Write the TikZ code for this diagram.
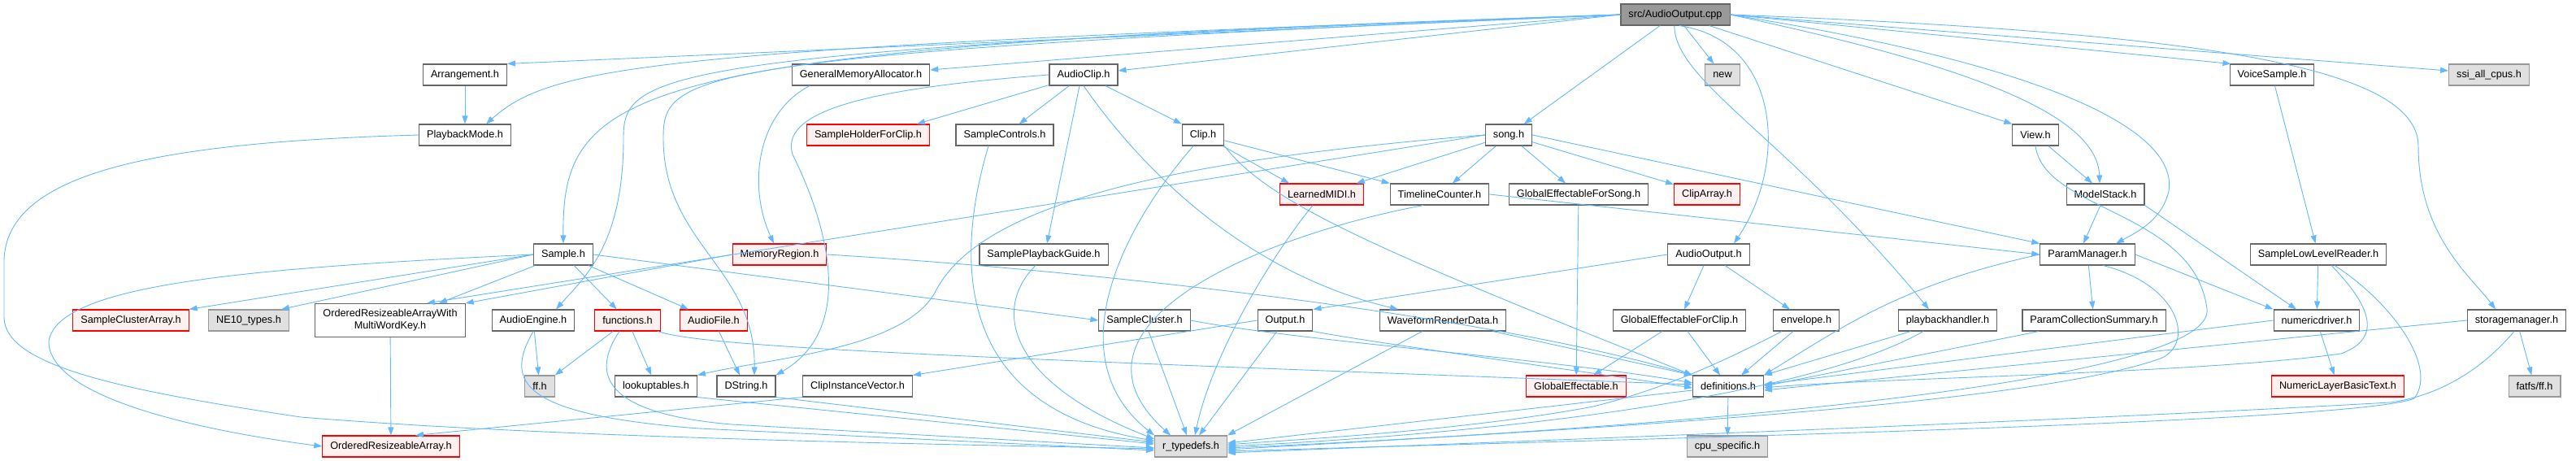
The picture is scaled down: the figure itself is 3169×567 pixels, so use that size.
\documentclass[tikz,border=0pt]{standalone}
\usepackage{fontspec}
\setmainfont{Liberation Sans}
\usetikzlibrary{arrows.meta}

\definecolor{linkblue}{HTML}{63B8FF}

\tikzset{
  hfile/.style={draw=black!60, fill=white, line width=1.1pt, minimum height=26pt,
    inner xsep=9.5pt, inner ysep=0pt, font=\fontsize{12.7}{15}\selectfont},
  sysfile/.style={hfile, draw=black!40, fill=black!12},
  missfile/.style={hfile, draw=red, fill=red!6},
  rootfile/.style={hfile, fill=black!40},
  dep/.style={draw=linkblue, line width=0.9pt, -{Triangle[length=10pt,width=7pt]}}
}

\begin{document}
\begin{tikzpicture}[x=1pt, y=-1pt]
\useasboundingbox (0,0) rectangle (3169,567);

\node[rootfile] (root) at (2061,18) {src/AudioOutput.cpp};

% row 1
\node[hfile] (arrange) at (572,92) {Arrangement.h};
\node[hfile] (gma) at (1059,92) {GeneralMemoryAllocator.h};
\node[hfile] (aclip) at (1333,92) {AudioClip.h};
\node[sysfile] (newh) at (2119,92) {new};
\node[hfile] (voice) at (2795,92) {VoiceSample.h};
\node[sysfile] (ssi) at (3062,92) {ssi\_all\_cpus.h};

% row 2
\node[hfile] (pbmode) at (572,166) {PlaybackMode.h};
\node[missfile] (shfc) at (1068,166) {SampleHolderForClip.h};
\node[hfile] (sctrl) at (1236,166) {SampleControls.h};
\node[hfile] (clip) at (1480,166) {Clip.h};
\node[hfile] (song) at (1856,166) {song.h};
\node[hfile] (view) at (2504,166) {View.h};

% row 3
\node[missfile] (lmidi) at (1626,239) {LearnedMIDI.h};
\node[hfile] (tlc) at (1771,239) {TimelineCounter.h};
\node[hfile] (gefs) at (1942,239) {GlobalEffectableForSong.h};
\node[missfile] (cliparr) at (2100,239) {ClipArray.h};
\node[hfile] (mstack) at (2590,239) {ModelStack.h};

% row 4
\node[hfile] (sample) at (693,313) {Sample.h};
\node[missfile] (memreg) at (959,313) {MemoryRegion.h};
\node[hfile] (spg) at (1284,313) {SamplePlaybackGuide.h};
\node[hfile] (aout) at (2102,313) {AudioOutput.h};
\node[hfile] (pmgr) at (2568,313) {ParamManager.h};
\node[hfile] (sllr) at (2852,313) {SampleLowLevelReader.h};

% row 5
\node[missfile] (sca) at (161,394) {SampleClusterArray.h};
\node[sysfile] (ne10) at (306,394) {NE10\_types.h};
\node[hfile, minimum height=41pt, align=center] (orawmwk) at (480,394) {OrderedResizeableArrayWith\\MultiWordKey.h};
\node[hfile] (aeng) at (656,394) {AudioEngine.h};
\node[missfile] (funcs) at (772,394) {functions.h};
\node[missfile] (afile) at (878,394) {AudioFile.h};
\node[hfile] (sclus) at (1408,394) {SampleCluster.h};
\node[hfile] (output) at (1581,394) {Output.h};
\node[hfile] (wrd) at (1775,394) {WaveformRenderData.h};
\node[hfile] (gefc) at (2066,394) {GlobalEffectableForClip.h};
\node[hfile] (envl) at (2222,394) {envelope.h};
\node[hfile] (pbh) at (2396,394) {playbackhandler.h};
\node[hfile] (pcs) at (2576,394) {ParamCollectionSummary.h};
\node[hfile] (ndrv) at (2850,394) {numericdriver.h};
\node[hfile] (smgr) at (3096,394) {storagemanager.h};

% row 6
\node[sysfile] (ffh) at (664,475) {ff.h};
\node[hfile] (lut) at (807,475) {lookuptables.h};
\node[hfile] (dstr) at (918,475) {DString.h};
\node[hfile] (civ) at (1055,475) {ClipInstanceVector.h};
\node[missfile] (geff) at (1939,475) {GlobalEffectable.h};
\node[hfile] (defs) at (2126,475) {definitions.h};
\node[missfile] (nlbt) at (2876,475) {NumericLayerBasicText.h};
\node[sysfile] (fatfs) at (3118,475) {fatfs/ff.h};

% row 7
\node[missfile] (ora) at (481,549) {OrderedResizeableArray.h};
\node[sysfile] (rtd) at (1465,549) {r\_typedefs.h};
\node[sysfile] (cpus) at (2125,549) {cpu\_specific.h};

% includes of the cpp file
\draw[dep] (root.west) -- (arrange.north east);
\draw[dep] (root.west) .. controls (800,60) and (680,80) .. ([xshift=26pt]pbmode.north);
\draw[dep] (root.west) .. controls (780,58) and (691,100) .. (sample.north);
\draw[dep] (root.west) .. controls (800,62) and (767,90) .. (767,170) .. controls (767,300) and (720,340) .. ([xshift=28pt]aeng.north);
\draw[dep] (root.west) .. controls (840,66) and (816,90) .. (816,170) .. controls (816,300) and (930,330) .. ([xshift=10pt]dstr.north);
\draw[dep] (root.west) -- ([yshift=6pt]gma.east);
\draw[dep] (root.west) -- ([yshift=5pt]aclip.east);
\draw[dep] (root) -- (song);
\draw[dep] (root) -- (newh);
\draw[dep] (root.-70) .. controls (2190,50) and (2200,200) .. ([xshift=31pt]aout.north);
\draw[dep] (root.-95) .. controls (2060,100) and (2200,170) .. ([xshift=-23pt]pbh.north);
\draw[dep] (root) -- (view.north west);
\draw[dep] (root.east) .. controls (2420,80) and (2580,140) .. ([xshift=-7pt]mstack.north);
\draw[dep] (root.east) .. controls (2520,80) and (2680,160) .. (2668,235) .. controls (2660,270) and (2630,285) .. ([xshift=35pt]pmgr.north);
\draw[dep] (root.east) -- (voice.165);
\draw[dep] (root.east) -- ([yshift=5pt]ssi.west);
\draw[dep] (root.east) .. controls (2700,40) and (2975,80) .. (2975,180) .. controls (2975,290) and (3040,340) .. ([xshift=-26pt]smgr.north);

% left part
\draw[dep] (arrange) -- (pbmode);
\draw[dep] (pbmode.west) .. controls (200,175) and (8,210) .. (5,320) -- (5,390) .. controls (5,450) and (150,480) .. (370,513) .. controls (700,540) and (1200,547) .. ([yshift=-3pt]rtd.west);
\draw[dep] ([xshift=-63pt]gma.south) .. controls (930,140) and (920,230) .. ([xshift=-7pt]memreg.north);
\draw[dep] (memreg.west) -- (orawmwk.north east);
\draw[dep] (memreg.east) .. controls (1300,330) and (1800,380) .. (defs.north west);
\draw[dep] (sample.west) -- (sca.north east);
\draw[dep] (sample.west) -- ([xshift=40pt]ne10.north);
\draw[dep] (sample) -- ([xshift=60pt]orawmwk.north);
\draw[dep] (sample.west) .. controls (300,330) and (70,350) .. (60,420) .. controls (60,490) and (250,530) .. (ora.west);
\draw[dep] (sample) -- (funcs);
\draw[dep] (sample) -- (afile);
\draw[dep] (sample.east) -- (sclus.west);
\draw[dep] (orawmwk) -- (ora);
\draw[dep] (aeng) -- (ffh);
\draw[dep] (aeng.south) .. controls (620,470) and (640,510) .. (860,527) -- ([yshift=-5pt]rtd.west);
\draw[dep] (funcs) -- (ffh.north east);
\draw[dep] (funcs) -- (lut);
\draw[dep] ([xshift=-10pt]funcs.south) .. controls (720,470) and (760,510) .. (900,522) -- ([yshift=-2pt]rtd.west);
\draw[dep] (funcs.-20) .. controls (870,428) and (1200,440) .. ([yshift=2pt]defs.west);
\draw[dep] (afile) -- ([xshift=-8pt]dstr.north);
\draw[dep] (lut.south east) -- ([yshift=3pt]rtd.west);
\draw[dep] (dstr.south east) -- ([yshift=5pt]rtd.west);
\draw[dep] (civ.south west) -- ([xshift=30pt]ora.north);

% the audio clip
\draw[dep] (aclip) -- ([xshift=60pt]shfc.north);
\draw[dep] (aclip) -- (sctrl);
\draw[dep] ([xshift=-5pt]aclip.south) -- ([xshift=4pt]spg.north);
\draw[dep] (aclip) -- (clip.north west);
\draw[dep] (aclip.west) .. controls (1050,110) and (960,140) .. (975,190) .. controls (1010,260) and (1060,400) .. (dstr.north east);
\draw[dep] (aclip.south) .. controls (1420,230) and (1550,340) .. ([xshift=-55pt]wrd.north);
\draw[dep] ([xshift=-20pt]sctrl.south) .. controls (1180,300) and (1160,500) .. ([yshift=7pt]rtd.west);
\draw[dep] ([xshift=-10pt]spg.south) .. controls (1220,380) and (1240,470) .. ([yshift=9pt]rtd.west);
\draw[dep] (clip) -- ([xshift=-40pt]lmidi.north);
\draw[dep] (clip) -- (tlc.north west);
\draw[dep] (clip) .. controls (1380,280) and (1300,440) .. (rtd.north west);
\draw[dep] (clip.south east) .. controls (1560,250) and (1700,310) .. (defs.north west);

% the song
\draw[dep] (song) -- (lmidi);
\draw[dep] (song) -- (tlc);
\draw[dep] (song) -- (gefs);
\draw[dep] (song) -- (cliparr);
\draw[dep] (song.east) -- (pmgr.north west);
\draw[dep] (song.west) -- ([xshift=45pt]orawmwk.north);
\draw[dep] (song.west) .. controls (1400,200) and (1200,260) .. (1150,360) .. controls (1110,430) and (950,440) .. (lut.north east);
\draw[dep] (lmidi) .. controls (1560,320) and (1490,440) .. ([xshift=5pt]rtd.north);
\draw[dep] ([xshift=-20pt]tlc.south) .. controls (1550,290) and (1290,400) .. ([xshift=-25pt]rtd.north);
\draw[dep] (tlc.east) -- (pmgr.west);
\draw[dep] (gefs) -- (geff);

% the output side
\draw[dep] (aout.west) -- (output.north east);
\draw[dep] (aout) -- (gefc);
\draw[dep] (aout) -- (envl);
\draw[dep] (output.west) -- (civ.north east);
\draw[dep] (output) -- (rtd);
\draw[dep] (output.south east) .. controls (1680,420) and (1900,450) .. ([yshift=-2pt]defs.west);
\draw[dep] (wrd) -- (rtd.north east);
\draw[dep] (wrd) -- (defs.north west);
\draw[dep] (sclus) -- (rtd);
\draw[dep] (sclus.east) .. controls (1600,420) and (1900,440) .. ([yshift=4pt]defs.west);
\draw[dep] (gefc) -- (geff);
\draw[dep] (gefc) -- (defs);
\draw[dep] (envl) -- (defs);
\draw[dep] ([xshift=-30pt]envl.south) .. controls (2110,450) and (2040,480) .. (1960,500) .. controls (1800,530) and (1600,540) .. ([yshift=2pt]rtd.east);
\draw[dep] (pbh) -- (defs.north east);
\draw[dep] ([xshift=-30pt]pbh.south) .. controls (2240,480) and (1900,530) .. (rtd.east);
\draw[dep] ([yshift=-5pt]defs.west) -- ([yshift=4pt]rtd.east);
\draw[dep] (defs) -- (cpus);

% the right part
\draw[dep] (view) -- (mstack);
\draw[dep] (view.south) .. controls (2515,260) and (2700,260) .. (2715,380) .. controls (2725,460) and (2200,520) .. ([yshift=-2pt]rtd.east);
\draw[dep] (mstack) -- ([xshift=-5pt]pmgr.north);
\draw[dep] (mstack.south east) -- ([xshift=-25pt]ndrv.north);
\draw[dep] (pmgr) -- (pcs);
\draw[dep] (pmgr.west) .. controls (2340,350) and (2270,400) .. (defs.north east);
\draw[dep] (pmgr.east) -- (ndrv.north west);
\draw[dep] (pmgr.-35) .. controls (2680,350) and (2700,420) .. (2660,440) .. controls (2500,500) and (1900,530) .. ([yshift=-4pt]rtd.east);
\draw[dep] (pcs) -- (defs.east);
\draw[dep] (voice) -- (sllr);
\draw[dep] (sllr) -- (ndrv);
\draw[dep] ([xshift=16pt]sllr.south) .. controls (2930,390) and (2920,420) .. (2880,435) .. controls (2700,460) and (2300,465) .. ([yshift=-2pt]defs.east);
\draw[dep] ([xshift=20pt]sllr.south) .. controls (2940,370) and (3000,450) .. (2970,490) .. controls (2900,520) and (2000,540) .. ([yshift=-6pt]rtd.east);
\draw[dep] (ndrv) -- (nlbt);
\draw[dep] (ndrv.west) -- ([yshift=2pt]defs.east);
\draw[dep] (smgr) -- (fatfs);
\draw[dep] (smgr.west) -- ([yshift=-5pt]defs.east);
\draw[dep] ([xshift=-3pt]smgr.south) .. controls (3040,470) and (2980,490) .. (2940,495) .. controls (2500,520) and (1800,545) .. ([yshift=-8pt]rtd.east);

\end{tikzpicture}
\end{document}
